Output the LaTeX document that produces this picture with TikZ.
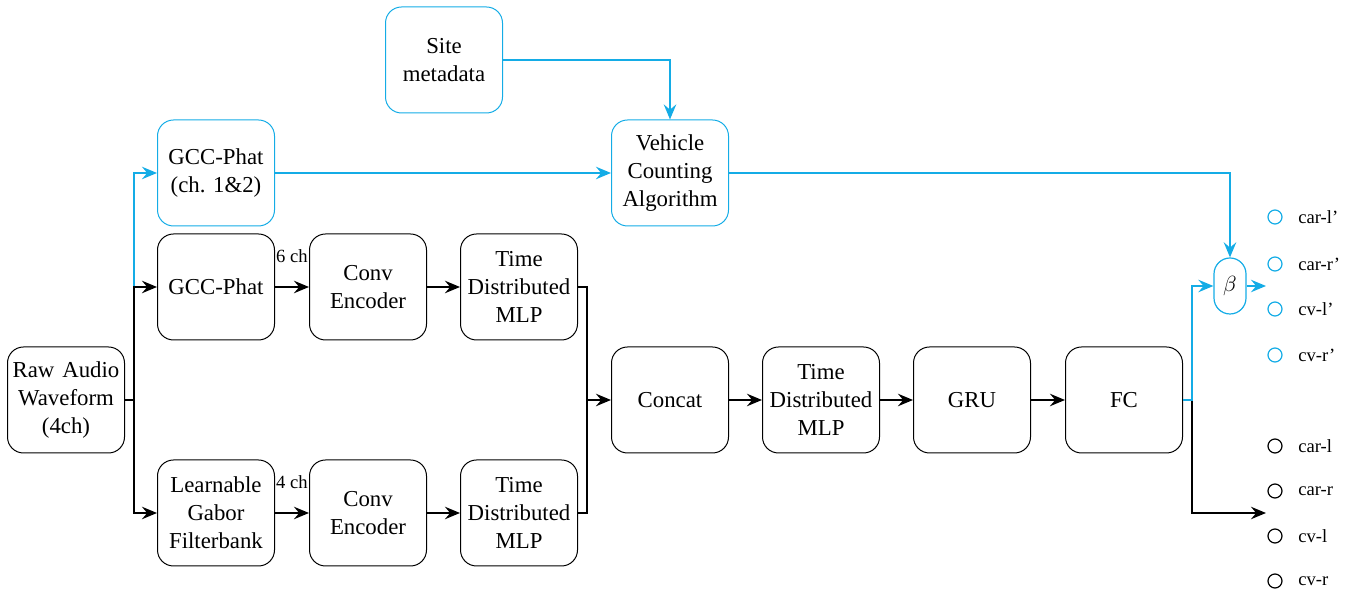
\documentclass[tikz,border=0pt]{standalone}
\usepackage{fontspec}
\setmainfont{Liberation Serif}
\usetikzlibrary{arrows.meta}
\definecolor{skyline}{RGB}{20,172,230}
\begin{document}
\begin{tikzpicture}[x=0.5pt,y=-0.5pt,
  font=\rmfamily\fontsize{11.4}{14}\selectfont,
  box/.style={draw, rounded corners=8pt, minimum width=58.5pt, minimum height=53pt,
              align=center, inner sep=0pt, line width=0.5pt},
  bbox/.style={box, draw=skyline},
  conn/.style={-{Stealth[length=7.5pt,width=6.2pt,inset=2.6pt]}, line width=1.4pt},
  bconn/.style={conn, draw=skyline, color=skyline},
  small/.style={font=\rmfamily\fontsize{9.3}{11}\selectfont, inner sep=0pt},
  circ/.style={circle, draw, line width=0.6pt, minimum size=7pt, inner sep=0pt},
  bcirc/.style={circ, draw=skyline}]
\useasboundingbox (0,0) rectangle (1357,592);

% input and front-end branches
\node[box]  (raw)   at (66,400)  {Raw\hspace{0.35em}Audio\\Waveform\\(4ch)};
\node[bbox] (gcc12) at (216,173) {GCC-Phat\\(ch. 1\&2)};
\node[box]  (gcc)   at (216,287) {GCC-Phat};
\node[box]  (gab)   at (216,513) {Learnable\\Gabor\\Filterbank};
\node[box]  (enc1)  at (368,287) {Conv\\Encoder};
\node[box]  (enc2)  at (368,513) {Conv\\Encoder};
\node[box]  (mlp1)  at (519,287) {Time\\Distributed\\MLP};
\node[box]  (mlp2)  at (519,513) {Time\\Distributed\\MLP};

% shared trunk
\node[box]  (cat)   at (670,400) {Concat};
\node[box]  (mlp3)  at (821,400) {Time\\Distributed\\MLP};
\node[box]  (gru)   at (972,400) {GRU};
\node[box]  (fc)    at (1124,400) {FC};

% counting branch
\node[bbox] (site)  at (444,60)  {Site\\metadata};
\node[bbox] (vca)   at (670,173) {Vehicle\\Counting\\Algorithm};
\node[draw=skyline, line width=0.6pt, rounded corners=8pt, minimum width=16pt,
      minimum height=28pt, inner sep=0pt] (beta) at (1230,286) {$\beta$};

% channel labels
\node[small] (l6) at (292,256) {6 ch};
\node[small] (l4) at (292,482) {4 ch};

% outputs
\foreach \n/\y/\t in {a/217/car-l', b/264/car-r', c/309/cv-l', d/355/cv-r'}{
  \node[bcirc] (o\n) at (1275,\y) {};
  \node[small, anchor=west] (t\n) at (1298,\y) {\t};
}
\foreach \n/\y/\t in {e/446/car-l, f/491/car-r, g/536/cv-l, h/581/cv-r}{
  \node[circ] (o\n) at (1275,\y) {};
  \node[small, anchor=west] (t\n) at (1298,\y) {\t};
}

% splits from the raw waveform
\coordinate (split) at ([xshift=4.5pt]raw.east);
\draw[bconn] (split |- gcc.west) |- (gcc12.west);
\draw[line width=1.4pt] (raw.east) -- (split);
\draw[conn] (split) |- (gcc.west);
\draw[conn] (split) |- (gab.west);

% front-end chains
\draw[conn] (gcc) -- (enc1);
\draw[conn] (gab) -- (enc2);
\draw[conn] (enc1) -- (mlp1);
\draw[conn] (enc2) -- (mlp2);
\coordinate (join) at ([xshift=4.5pt]mlp1.east |- cat.west);
\draw[line width=1.4pt] (mlp1.east) -| (join);
\draw[line width=1.4pt] (mlp2.east) -| (join);
\draw[conn] (join) -- (cat.west);
\draw[conn] (cat) -- (mlp3);
\draw[conn] (mlp3) -- (gru);
\draw[conn] (gru) -- (fc);

% counting branch connectors
\draw[bconn] (site.east) -| (vca.north);
\draw[bconn] (gcc12) -- (vca);
\draw[bconn] (vca.east) -| (beta.north);

% fusion and heads
\coordinate (fork) at ([xshift=4.5pt]fc.east);
\coordinate (headb) at (1266,286);
\coordinate (heada) at (1266,513);
\draw[conn] (fork) |- (heada);
\draw[bconn] (fc.east) -- (fork) |- (beta.west);
\draw[bconn] (beta.east) -- (headb);
\end{tikzpicture}
\end{document}
